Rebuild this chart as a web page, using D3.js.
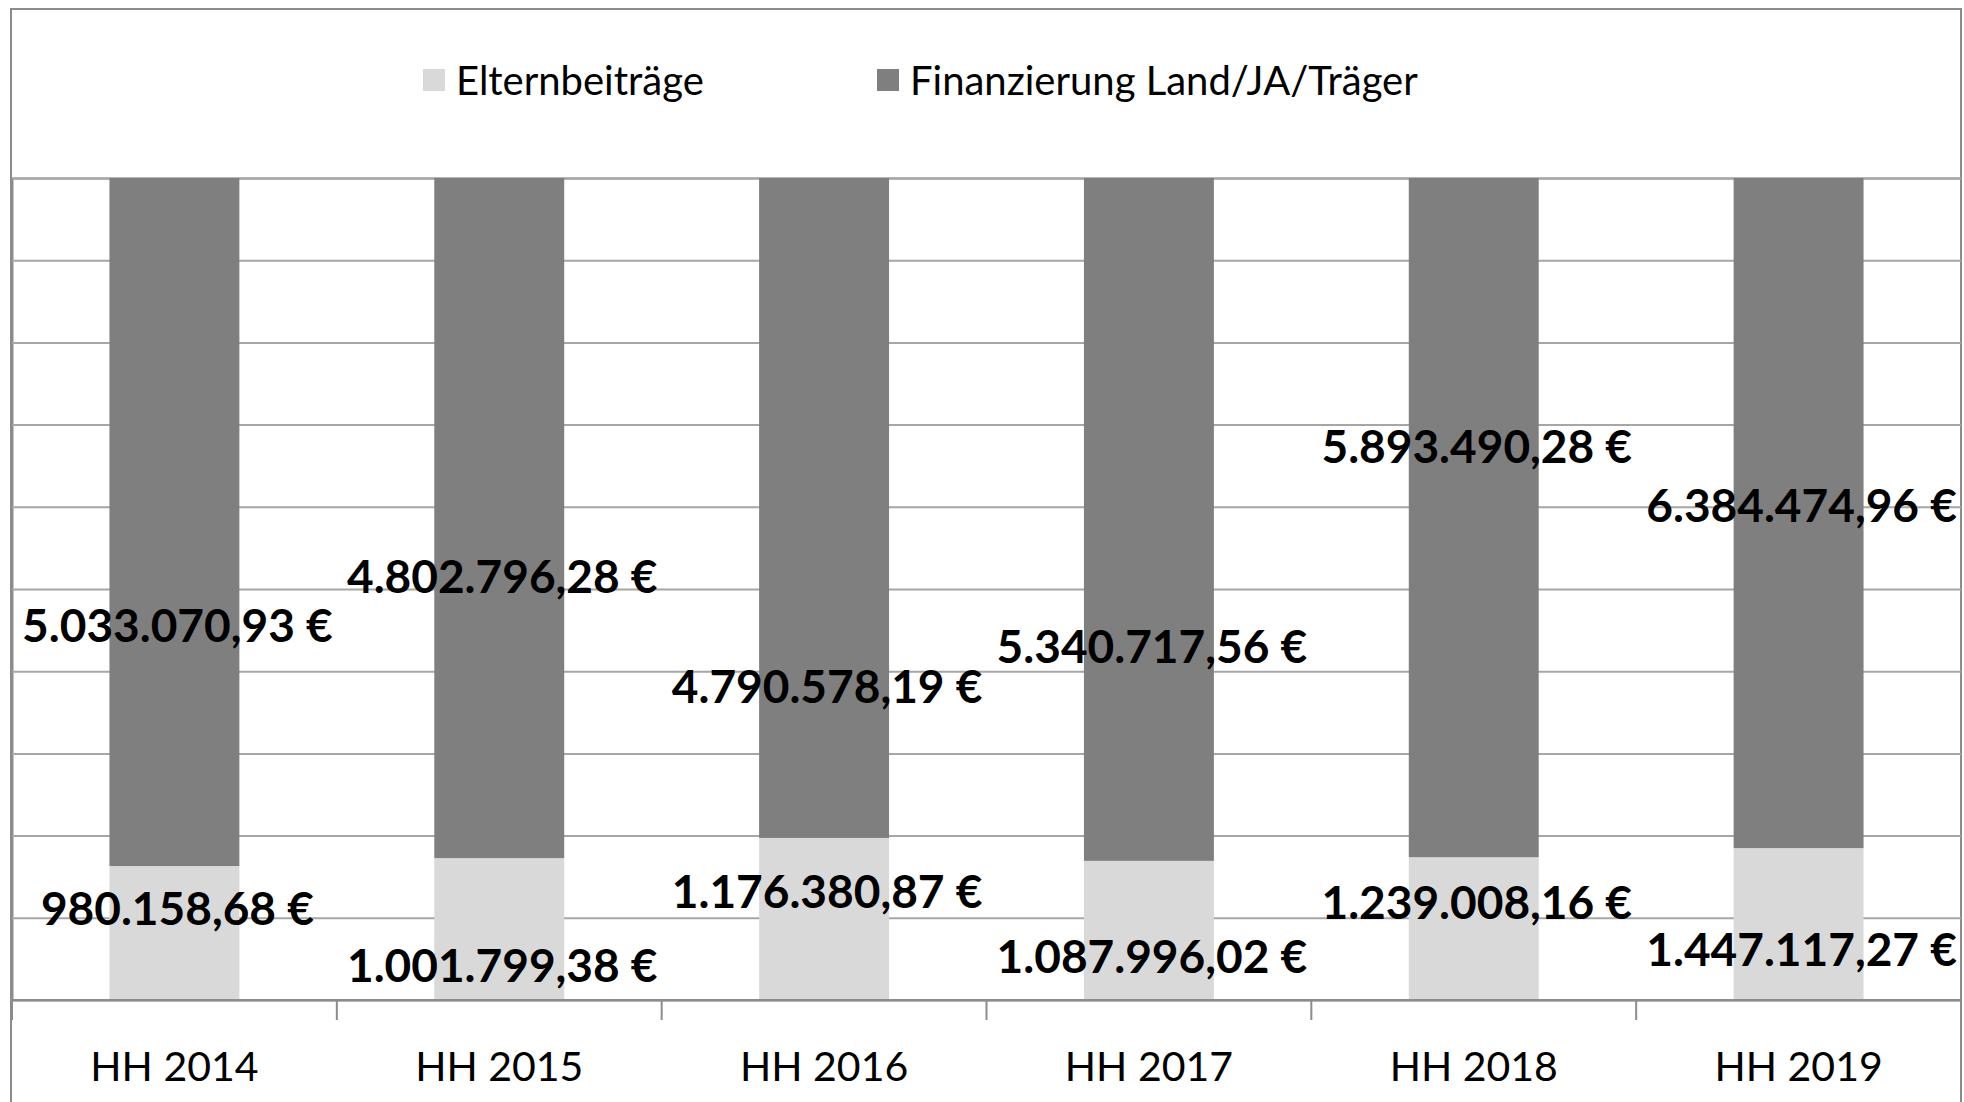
<!DOCTYPE html>
<html>
<head>
<meta charset="utf-8">
<script src="https://cdn.jsdelivr.net/npm/d3@7.9.0/dist/d3.min.js"></script>
<style>
  html, body { margin: 0; padding: 0; background: #fff; }
  svg { display: block; font-family: Lato, "Open Sans", sans-serif; }
</style>
</head>
<body>
<svg id="chart" width="1964" height="1102"></svg>
<script>
// Categories and series values (EUR)
const categories = ['HH 2014', 'HH 2015', 'HH 2016', 'HH 2017', 'HH 2018', 'HH 2019'];
const elternbeitraege = [980158.68, 1001799.38, 1176380.87, 1087996.02, 1239008.16, 1447117.27];
const finanzierung = [5033070.93, 4802796.28, 4790578.19, 5340717.56, 5893490.28, 6384474.96];
const seriesNames = ['Elternbeiträge', 'Finanzierung Land/JA/Träger'];

// where the data labels were dragged to, in % of the column
const elternLabelAt = [11.2, 4.3, 13.3, 5.4, 12.0, 6.3];
const finanzLabelAt = [45.7, 51.7, 38.2, 43.1, 67.4, 60.3];

const colors = ['#d9d9d9', '#7f7f7f'];

const svg = d3.select('#chart');
const plot = { left: 12, right: 1961, top: 178, bottom: 1000 };

// euro formatting, German style
const de = d3.formatLocale({ decimal: ',', thousands: '.', grouping: [3], currency: ['', ' €'] });
const fmt = de.format(',.2f');

// chart border
svg.append('rect')
  .attr('x', 11).attr('y', 9)
  .attr('width', 1950).attr('height', 1110)
  .attr('fill', 'none')
  .attr('stroke', '#8c8c8c')
  .attr('stroke-width', 2);

const x = d3.scaleBand()
  .domain(categories)
  .range([plot.left, plot.right])
  .paddingInner(0.6)
  .paddingOuter(0.3);

const y = d3.scaleLinear()
  .domain([0, 100])
  .range([plot.bottom, plot.top]);

// gridlines
const yAxis = d3.axisLeft(y).ticks(10).tickSize(-(plot.right - plot.left)).tickFormat('');
svg.append('g')
  .attr('transform', `translate(${plot.left},0)`)
  .call(yAxis)
  .call(g => g.select('.domain').attr('stroke', '#8c8c8c').attr('stroke-width', 2))
  .call(g => g.selectAll('.tick line').attr('stroke', '#a6a6a6').attr('stroke-width', 2));

// stacked 100% data
const rows = categories.map((c, i) => {
  const total = elternbeitraege[i] + finanzierung[i];
  return { cat: c, e: elternbeitraege[i] / total * 100, f: finanzierung[i] / total * 100 };
});
const stack = d3.stack().keys(['e', 'f'])(rows);

svg.append('g').selectAll('g')
  .data(stack)
  .join('g')
  .attr('fill', (d, i) => colors[i])
  .selectAll('rect')
  .data(d => d)
  .join('rect')
  .attr('x', d => x(d.data.cat))
  .attr('width', x.bandwidth())
  .attr('y', d => y(d[1]))
  .attr('height', d => y(d[0]) - y(d[1]));

// category axis
svg.append('g')
  .attr('transform', `translate(0,${plot.bottom})`)
  .call(d3.axisBottom(x).tickSize(0).tickPadding(52))
  .call(g => g.select('.domain').remove())
  .call(g => g.selectAll('text')
    .attr('font-size', 41)
    .attr('font-family', 'Lato, sans-serif')
    .attr('fill', '#000'));

// boundary ticks + axis line
const bounds = d3.range(categories.length + 1).map(i => plot.left + i * x.step());
svg.append('g').selectAll('line')
  .data(bounds)
  .join('line')
  .attr('x1', d => d).attr('x2', d => d)
  .attr('y1', plot.bottom).attr('y2', plot.bottom + 20)
  .attr('stroke', '#8c8c8c').attr('stroke-width', 2);
svg.append('line')
  .attr('x1', plot.left).attr('x2', plot.right)
  .attr('y1', plot.bottom).attr('y2', plot.bottom)
  .attr('stroke', '#8c8c8c').attr('stroke-width', 2);

// data labels
const labels = [];
categories.forEach((c, i) => {
  labels.push({ cat: c, v: elternbeitraege[i], at: elternLabelAt[i] });
  labels.push({ cat: c, v: finanzierung[i], at: finanzLabelAt[i] });
});
svg.append('g').selectAll('text')
  .data(labels)
  .join('text')
  .attr('x', d => x(d.cat) + x.bandwidth() / 2 + 3)
  .attr('y', d => y(d.at))
  .attr('text-anchor', 'middle')
  .attr('dominant-baseline', 'central')
  .attr('font-size', 46)
  .attr('font-weight', 'bold')
  .attr('fill', '#000')
  .text(d => fmt(d.v) + ' €');

// legend
const legend = svg.append('g').attr('transform', 'translate(0,80)');
const legendX = [423, 877];
seriesNames.forEach((name, i) => {
  const g = legend.append('g').attr('transform', `translate(${legendX[i]},0)`);
  g.append('rect').attr('x', 0).attr('y', -11).attr('width', 22).attr('height', 22).attr('fill', colors[i]);
  g.append('text')
    .attr('x', 33).attr('y', 0)
    .attr('dominant-baseline', 'central')
    .attr('font-size', 40)
    .attr('fill', '#000')
    .text(name);
});
</script>
</body>
</html>
